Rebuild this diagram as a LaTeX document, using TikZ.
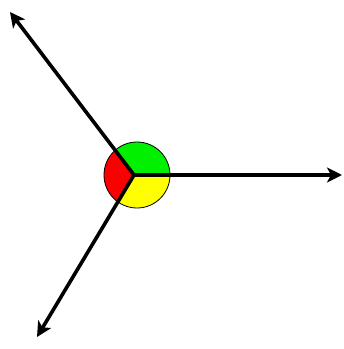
\documentclass[tikz,border=0pt]{standalone}
\usepackage{tikz}
\usetikzlibrary{arrows.meta, calc}
\usepackage{xcolor}
\definecolor{hubgreen}{RGB}{0, 240, 0}
\definecolor{hubred}{RGB}{250, 0, 0}
\definecolor{hubyellow}{RGB}{255, 255, 0}
\tikzstyle{spoke} = [-{Stealth[length=15pt, width=15pt, inset=4pt]}, line width=3.6pt, black]
\tikzstyle{hubrim} = [draw=black, line width=0.8pt]
\begin{document}
\begin{tikzpicture}[x=1pt, y=1pt]

% Frame
\useasboundingbox (0, 0) rectangle (344, 349);

% Points
\coordinate (hub) at (134, 174);
\coordinate (hubmid) at (137, 174);
\coordinate (tipleft) at (10, 337);
\coordinate (tipright) at (342, 174);
\coordinate (tipdown) at (37, 12);

% Sectors of the disc
\begin{scope}
    \clip (hubmid) circle (33);
    \fill[hubgreen] (hub) -- ++(0:100) arc[start angle=0, end angle=127, radius=100] -- cycle;
    \fill[hubred] (hub) -- ++(127:100) arc[start angle=127, end angle=239, radius=100] -- cycle;
    \fill[hubyellow] (hub) -- ++(239:100) arc[start angle=239, end angle=360, radius=100] -- cycle;
\end{scope}
\draw[hubrim] (hubmid) circle (33);

% Arrows
\draw[spoke] (hub) -- (tipleft);
\draw[spoke] (hub) -- (tipright);
\draw[spoke] (hub) -- (tipdown);

\end{tikzpicture}
\end{document}
